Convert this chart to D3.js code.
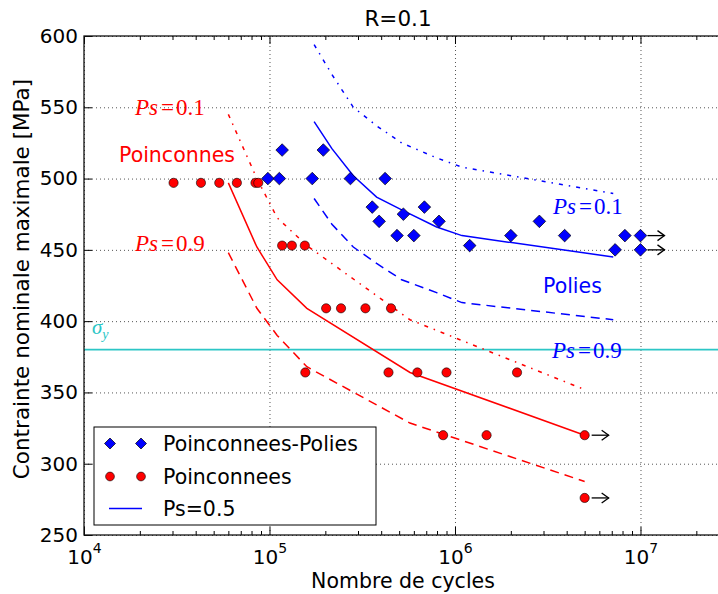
<!DOCTYPE html>
<html><head><meta charset="utf-8">
<script src="https://cdn.jsdelivr.net/npm/d3@7/dist/d3.min.js"></script>
<style>
body{margin:0;background:#fff;}
svg{display:block;font-family:"DejaVu Sans",sans-serif;}
</style></head>
<body><svg id="chart" width="718" height="594"></svg>
<script>
// ---------- data ----------
const title = "R=0.1";
const xLabel = "Nombre de cycles";
const yLabel = "Contrainte nominale maximale [MPa]";
const yTicks = [250, 300, 350, 400, 450, 500, 550, 600];
const xTicks = [1e4, 1e5, 1e6, 1e7];
const sigmaY = 380;

// Poinconnees-Polies (blue diamonds)
const poliesN = [1.17e5, 1.95e5, 0.98e5, 1.13e5, 1.7e5, 2.73e5, 4.2e5, 3.58e5, 3.9e5, 5.27e5, 6.84e5, 8.2e5,
                 4.87e5, 6.0e5, 1.2e6, 2.0e6, 2.85e6, 3.9e6, 7.3e6, 8.24e6, 1e7, 1e7];
const poliesS = [520, 520, 500, 500, 500, 500, 500, 480, 470, 475, 480, 470,
                 460, 460, 453, 460, 470, 460, 450, 460, 460, 450];
// Poinconnees (red circles)
const poinN = [3.04e4, 4.27e4, 5.36e4, 6.67e4, 8.4e4, 8.7e4, 1.17e5, 1.32e5, 1.55e5,
               2.02e5, 2.43e5, 3.29e5, 4.52e5, 1.56e5, 4.38e5, 6.27e5, 9.0e5, 2.16e6,
               8.63e5, 1.48e6, 5e6, 5e6];
const poinS = [497, 497, 497, 497, 497, 497, 453, 453, 453,
               409, 409, 409, 409, 364, 364, 364, 364, 364,
               320, 320, 320, 276];
// run-outs (arrows)
const runoutN = [1e7, 1e7, 5e6, 5e6];
const runoutS = [460, 450, 320, 276];

// P-S-N curves, Poinconnees (red)
const redN   = [6.0e4, 8.55e4, 1.10e5, 1.59e5, 5.72e5, 5.0e6];
const redP50 = [497, 452, 429, 409, 364, 320];
const redP90 = [448, 409, 390, 368, 328.5, 287.5];
const redP10 = [545, 500, 472.5, 453, 401, 352];
// P-S-N curves, Polies (blue)
const blueN   = [1.74e5, 2.17e5, 2.83e5, 3.78e5, 5.16e5, 7.96e5, 1.09e6, 7.13e6];
const blueP50 = [540, 521, 502, 487, 478, 466, 460, 445];
const blueP90 = [486, 468, 452, 440.5, 429, 420, 413, 401];
const blueP10 = [594, 573, 550, 537, 525, 514.5, 508, 489.5];

const legendLabels = ["Poinconnees-Polies", "Poinconnees", "Ps=0.5"];

// ---------- layout ----------
const svg = d3.select("#chart");
const L = 84, T = 36, B = 535, R = 729;
const x = d3.scaleLog().domain([1e4, 3e7]).range([L, R]);
const y = d3.scaleLinear().domain([250, 600]).range([B, T]);
const W = R - L, H = B - T;
const RED = "#ff0000", BLUE = "#0000ff", CYAN = "#2cc6c6";

// grid
const gx = svg.append("g").attr("transform", `translate(0,${B})`)
  .call(d3.axisBottom(x).tickValues(xTicks).tickSizeInner(-H).tickSizeOuter(0).tickFormat(""));
const gy = svg.append("g").attr("transform", `translate(${L},0)`)
  .call(d3.axisLeft(y).tickValues(yTicks).tickSizeInner(-W).tickSizeOuter(0).tickFormat(""));
[gx, gy].forEach(g => {
  g.select(".domain").remove();
  g.selectAll(".tick line").attr("stroke", "#555").attr("stroke-width", 1).attr("stroke-dasharray", "1,3");
});

// cyan yield line
svg.append("line").attr("x1", x(1e4)).attr("x2", x(3e7)).attr("y1", y(sigmaY)).attr("y2", y(sigmaY))
  .attr("stroke", CYAN).attr("stroke-width", 1.6);

// curves
const line = d3.line().x(d => x(d[0])).y(d => y(d[1]));
function curve(N, S, color, dash) {
  svg.append("path").datum(N.map((n, i) => [n, S[i]])).attr("d", line)
    .attr("fill", "none").attr("stroke", color).attr("stroke-width", 1.5)
    .attr("stroke-dasharray", dash);
}
curve(redN, redP50, RED, null);
curve(redN, redP90, RED, "9,6");
curve(redN, redP10, RED, "4,6,1.5,6");
curve(blueN, blueP50, BLUE, null);
curve(blueN, blueP90, BLUE, "9,6");
curve(blueN, blueP10, BLUE, "4,6,1.5,6");

// markers
const diamond = r => `M0,${-r}L${r},0L0,${r}L${-r},0Z`;
svg.append("g").selectAll("path").data(poliesN.map((n, i) => [n, poliesS[i]])).join("path")
  .attr("d", diamond(6.3)).attr("transform", d => `translate(${x(d[0])},${y(d[1])})`)
  .attr("fill", BLUE).attr("stroke", "#000").attr("stroke-width", 0.7);
svg.append("g").selectAll("circle").data(poinN.map((n, i) => [n, poinS[i]])).join("circle")
  .attr("cx", d => x(d[0])).attr("cy", d => y(d[1])).attr("r", 4.6)
  .attr("fill", RED).attr("stroke", "#000").attr("stroke-width", 0.6);

// run-out arrows
const ag = svg.append("g").attr("stroke", "#000").attr("stroke-width", 1.3).attr("fill", "none");
runoutN.forEach((n, i) => {
  const px = x(n), py = y(runoutS[i]);
  ag.append("line").attr("x1", px + 7).attr("x2", px + 24).attr("y1", py).attr("y2", py);
  ag.append("path").attr("d", `M${px + 17},${py - 5}L${px + 24},${py}L${px + 17},${py + 5}`);
});

// axes (inward ticks)
function styleAxis(g) {
  g.select(".domain").remove();
  g.selectAll(".tick line").attr("stroke", "#000").attr("stroke-width", 1);
  g.selectAll(".tick text").attr("fill", "#000").attr("font-size", 20).attr("font-family", "DejaVu Sans");
}
const minor = [];
for (let e = 4; e <= 7; e++) for (let k = 2; k <= 9; k++) { const v = k * Math.pow(10, e); if (v <= 3e7) minor.push(v); }

const xb = svg.append("g").attr("transform", `translate(0,${B})`)
  .call(d3.axisBottom(x).tickValues(xTicks).tickSizeInner(-8).tickSizeOuter(0).tickPadding(15).tickFormat(d => ""));
styleAxis(xb);
xb.selectAll(".tick text").attr("dy", null).attr("y", 29).each(function (d) {
  const t = d3.select(this);
  t.append("tspan").text("10");
  t.append("tspan").attr("font-size", 14).attr("dy", -11).text(Math.round(Math.log10(d)));
});
const xbm = svg.append("g").attr("transform", `translate(0,${B})`)
  .call(d3.axisBottom(x).tickValues(minor).tickSizeInner(-4).tickSizeOuter(0).tickFormat(""));
styleAxis(xbm);
const xt = svg.append("g").attr("transform", `translate(0,${T})`)
  .call(d3.axisTop(x).tickValues(xTicks).tickSizeInner(-8).tickSizeOuter(0).tickFormat(""));
styleAxis(xt);
const xtm = svg.append("g").attr("transform", `translate(0,${T})`)
  .call(d3.axisTop(x).tickValues(minor).tickSizeInner(-4).tickSizeOuter(0).tickFormat(""));
styleAxis(xtm);
const yl = svg.append("g").attr("transform", `translate(${L},0)`)
  .call(d3.axisLeft(y).tickValues(yTicks).tickSizeInner(-8).tickSizeOuter(0).tickPadding(6).tickFormat(d3.format("d")));
styleAxis(yl);

// frame
svg.append("rect").attr("x", L).attr("y", T).attr("width", W).attr("height", H)
  .attr("fill", "none").attr("stroke", "#111").attr("stroke-width", 1.3);

// titles
svg.append("text").attr("x", 398).attr("y", 26).attr("text-anchor", "middle")
  .attr("font-size", 21.5).text(title);
svg.append("text").attr("x", 403).attr("y", 588).attr("text-anchor", "middle")
  .attr("font-size", 20.5).text(xLabel);
svg.append("text").attr("transform", "translate(29,279) rotate(-90)").attr("text-anchor", "middle")
  .attr("font-size", 21.5).text(yLabel);

// annotations
function psLabel(px, py, val, color) {
  const t = svg.append("text").attr("x", px).attr("y", py).attr("fill", color)
    .attr("font-family", "Liberation Serif, DejaVu Serif, serif").attr("font-size", 23);
  t.append("tspan").attr("font-style", "italic").text("Ps");
  t.append("tspan").attr("dx", 3).text("=");
  t.append("tspan").attr("dx", 2).text(val);
}
psLabel(135, 115, "0.1", RED);
psLabel(135, 251, "0.9", RED);
psLabel(553, 214, "0.1", BLUE);
psLabel(552, 358, "0.9", BLUE);
svg.append("text").attr("x", 119).attr("y", 162).attr("fill", RED).attr("font-size", 20.5).text("Poinconnes");
svg.append("text").attr("x", 543).attr("y", 293).attr("fill", BLUE).attr("font-size", 20.5).text("Polies");
const sg = svg.append("text").attr("x", 92).attr("y", 334).attr("fill", CYAN)
  .attr("font-family", "Liberation Serif, DejaVu Serif, serif").attr("font-style", "italic").attr("font-size", 21);
sg.append("tspan").text("σ");
sg.append("tspan").attr("font-size", 14).attr("dy", 5).text("y");

// legend
const lg = svg.append("g");
lg.append("rect").attr("x", 94).attr("y", 427).attr("width", 282).attr("height", 98)
  .attr("fill", "#fff").attr("stroke", "#000").attr("stroke-width", 1);
const rows = [443.5, 476.5, 508.5];
[110, 141].forEach(mx => {
  lg.append("path").attr("d", diamond(5.5)).attr("transform", `translate(${mx},${rows[0]})`)
    .attr("fill", BLUE).attr("stroke", "#000").attr("stroke-width", 0.7);
  lg.append("circle").attr("cx", mx).attr("cy", rows[1]).attr("r", 4.4)
    .attr("fill", RED).attr("stroke", "#000").attr("stroke-width", 0.6);
});
lg.append("line").attr("x1", 109).attr("x2", 142).attr("y1", rows[2]).attr("y2", rows[2])
  .attr("stroke", BLUE).attr("stroke-width", 1.5);
legendLabels.forEach((s, i) => {
  lg.append("text").attr("x", 163).attr("y", rows[i] + 7.5).attr("font-size", 20.5).text(s);
});
</script></body></html>
